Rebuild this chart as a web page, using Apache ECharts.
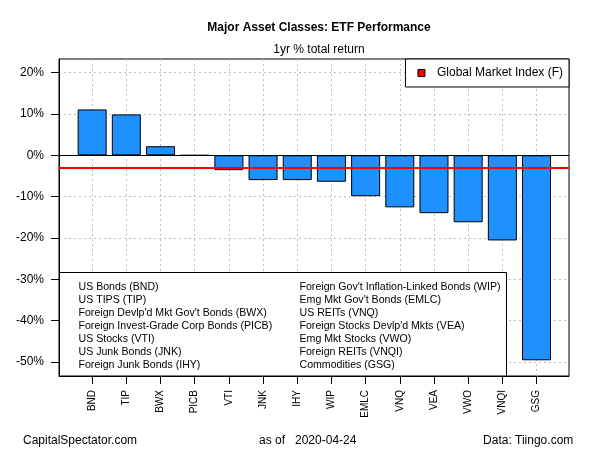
<!DOCTYPE html>
<html><head><meta charset="utf-8">
<script src="https://cdn.jsdelivr.net/npm/echarts@6/dist/echarts.min.js"></script>
<style>html,body{margin:0;padding:0;background:#fff}#c{width:600px;height:450px}</style>
</head><body><div id="c"></div>
<script>
const tickers = ['BND','TIP','BWX','PICB','VTI','JNK','IHY','WIP','EMLC','VNQ','VEA','VWO','VNQI','GSG'];
const returns = [11.1, 9.9, 2.2, 0.0, -3.6, -6.0, -6.0, -6.4, -9.9, -12.6, -14.0, -16.2, -20.6, -49.6];
const gmiName = 'Global Market Index (F)';
const gmiReturn = -3.0;
const yTicks = [-50, -40, -30, -20, -10, 0, 10, 20];
const yGridVals = [-50, -40, -30, -20, -10, 10, 20];
const legendLeft = ['US Bonds (BND)','US TIPS (TIP)',"Foreign Devlp'd Mkt Gov't Bonds (BWX)",'Foreign Invest-Grade Corp Bonds (PICB)','US Stocks (VTI)','US Junk Bonds (JNK)','Foreign Junk Bonds (IHY)'];
const legendRight = ["Foreign Gov't Inflation-Linked Bonds (WIP)","Emg Mkt Gov't Bonds (EMLC)",'US REITs (VNQ)',"Foreign Stocks Devlp'd Mkts (VEA)",'Emg Mkt Stocks (VWO)','Foreign REITs (VNQI)','Commodities (GSG)'];
const titleText = 'Major Asset Classes: ETF Performance';
const subText = '1yr % total return';
const footLeft = 'CapitalSpectator.com';
const footMid = 'as of   2020-04-24';
const footRight = 'Data: Tiingo.com';

const FONT = "'Liberation Sans', Arial, sans-serif";
const pos = tickers.map((t, i) => i + 1);

const chart = echarts.init(document.getElementById('c'));

const legendTexts = [];
legendLeft.forEach((t, i) => legendTexts.push({type:'text', z: 60, x:78.5, y:287.3 + 13 * i, style:{text:t, font:'10.6px ' + FONT, fill:'#000', textVerticalAlign:'middle'}}));
legendRight.forEach((t, i) => legendTexts.push({type:'text', z: 60, x:299.5, y:287.3 + 13 * i, style:{text:t, font:'10.6px ' + FONT, fill:'#000', textVerticalAlign:'middle'}}));

chart.setOption({
  animation: false,
  backgroundColor: '#fff',
  textStyle: {fontFamily: FONT},
  title: {
    text: titleText, subtext: subText, left: 314, textAlign: 'center', top: 16, itemGap: 8,
    textStyle: {fontSize: 12, fontWeight: 'bold', color: '#000', lineHeight: 14, fontFamily: FONT},
    subtextStyle: {fontSize: 12, color: '#000', lineHeight: 14, fontFamily: FONT}
  },
  legend: {
    data: [{name: gmiName, icon: 'rect', itemStyle: {color: '#ff0000', borderColor: '#000', borderWidth: 1}}],
    right: 31, top: 59, orient: 'vertical',
    backgroundColor: '#fff', borderColor: '#000', borderWidth: 1, borderRadius: 0,
    padding: [7, 6, 7, 12], itemWidth: 7, itemHeight: 7,
    textStyle: {fontSize: 12, color: '#000', lineHeight: 14, padding: [0, 0, 0, 7], fontFamily: FONT},
    selectedMode: false
  },
  grid: {left: 59, right: 31, top: 59, bottom: 74, show: true, borderColor: '#000', borderWidth: 1, backgroundColor: 'transparent', containLabel: false},
  xAxis: {
    type: 'value', min: 0.03, max: 14.95,
    axisLine: {show: true, onZero: false, lineStyle: {color: '#000'}},
    axisTick: {show: true, customValues: pos, length: 8, lineStyle: {color: '#000'}},
    axisLabel: {show: true, customValues: pos, rotate: 90, fontSize: 10, margin: 14, color: '#000', fontFamily: FONT,
      formatter: v => tickers[Math.round(v) - 1] || ''},
    splitLine: {show: true, customValues: pos, lineStyle: {color: '#bebebe', type: [2, 3], width: 1}}
  },
  yAxis: {
    type: 'value', min: -53.4, max: 23.3,
    axisLine: {show: true, onZero: false, lineStyle: {color: '#000'}},
    axisTick: {show: true, customValues: yTicks, length: 8, lineStyle: {color: '#000'}},
    axisLabel: {show: true, customValues: yTicks, fontSize: 12, margin: 15, color: '#000', fontFamily: FONT, formatter: v => v + '%'},
    splitLine: {show: true, customValues: yGridVals, lineStyle: {color: '#bebebe', type: [2, 3], width: 1}}
  },
  series: [
    {
      type: 'bar', name: 'ETF', data: returns.map((v, i) => [pos[i], v]), barWidth: 29,
      itemStyle: {color: '#1E90FF', borderColor: '#000', borderWidth: 1},
      markLine: {silent: true, symbol: 'none', label: {show: false}, lineStyle: {color: '#000', width: 1, type: 'solid'}, data: [{yAxis: 0}]}
    },
    {
      type: 'line', name: gmiName, data: [], itemStyle: {color: '#ff0000'},
      markLine: {silent: true, symbol: 'none', label: {show: false}, lineStyle: {color: '#ff0000', width: 2, type: 'solid'}, data: [{yAxis: gmiReturn}]}
    }
  ],
  graphic: [
    {type: 'rect', z: 50, shape: {x: 59.5, y: 272.5, width: 447, height: 103.5}, style: {fill: '#fff', stroke: '#000', lineWidth: 1}}
  ].concat(legendTexts).concat([
    {type: 'text', z: 51, x: 23, y: 440.7, style: {text: footLeft, font: '12px ' + FONT, fill: '#000', textVerticalAlign: 'middle'}},
    {type: 'text', z: 51, x: 307.7, y: 440.7, style: {text: footMid, font: '12px ' + FONT, fill: '#000', textAlign: 'center', textVerticalAlign: 'middle'}},
    {type: 'text', z: 51, x: 573.3, y: 440.7, style: {text: footRight, font: '12px ' + FONT, fill: '#000', textAlign: 'right', textVerticalAlign: 'middle'}}
  ])
});
</script></body></html>
